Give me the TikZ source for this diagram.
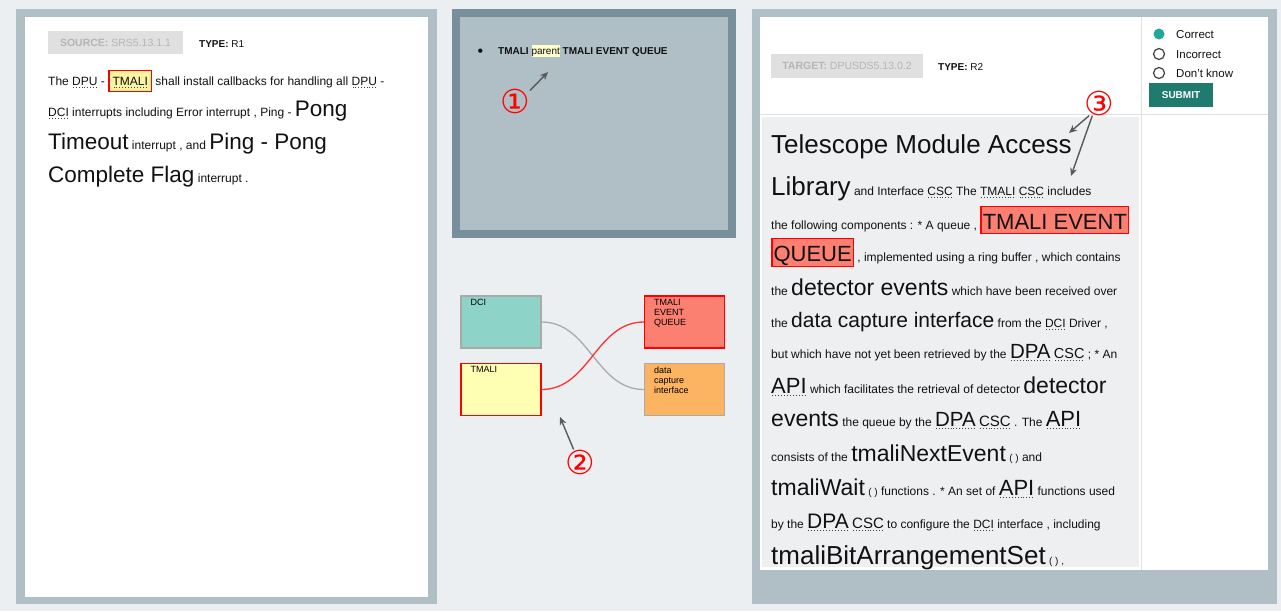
\documentclass[tikz,border=0pt]{standalone}
\usepackage{fontspec}
\setmainfont{Liberation Sans}
\newfontfamily\markfont{DejaVu Sans}
\usetikzlibrary{arrows.meta}

\definecolor{pagebg}{HTML}{ECEFF1}
\definecolor{frame}{HTML}{B0BEC5}
\definecolor{frameDark}{HTML}{78909C}
\definecolor{chip}{HTML}{E0E0E0}
\definecolor{chipText}{HTML}{B5B5B5}
\definecolor{textArea}{HTML}{EDEFF1}
\definecolor{radioTeal}{HTML}{26A69A}
\definecolor{submitTeal}{HTML}{1E7B6E}
\definecolor{hlYellow}{HTML}{FAF3A0}
\definecolor{hlPale}{HTML}{FFFFCC}
\definecolor{salmon}{HTML}{FB8072}
\definecolor{dciCol}{HTML}{8DD3C7}
\definecolor{tmaliCol}{HTML}{FFFFB3}
\definecolor{capCol}{HTML}{FDB462}
\definecolor{boxGray}{HTML}{AAAAAA}
\definecolor{wireRed}{HTML}{FF3030}
\definecolor{ink}{HTML}{111111}

\newcommand{\fs}[1]{\fontsize{#1}{#1}\selectfont}
\newsavebox{\abrbox}
\newcommand{\abr}[1]{\sbox\abrbox{#1}\leavevmode\rlap{\hbox to\wd\abrbox{\color{black!75}\xleaders\hbox{\kern.9pt\vrule width 1pt height -1.8pt depth 2.8pt\kern.9pt}\hfil}}\usebox\abrbox}
\setlength{\fboxrule}{1.3pt}
\newcommand{\hly}[1]{{\setlength{\fboxsep}{3pt}\fcolorbox{red}{hlYellow}{\rule[-0.7pt]{0pt}{11.4pt}#1}}}
\newcommand{\hlq}[1]{{\setlength{\fboxsep}{1pt}\fcolorbox{red}{salmon}{\rule[-2.7pt]{0pt}{23.4pt}#1}}}
\newcommand{\hlp}[1]{{\setlength{\fboxsep}{0pt}\colorbox{hlPale}{\rule[-2.2pt]{0pt}{11.7pt}#1}}}

\begin{document}
\begin{tikzpicture}[x=1pt,y=-1pt,
    txt/.style={anchor=base west,inner sep=0pt,text=ink},
    chipbox/.style={fill=chip,inner sep=0pt,text=chipText,font=\fs{10.5}},
    radio/.style={circle,inner sep=0pt,minimum size=11pt,line width=1.2pt},
    dbox/.style={line width=1.4pt,minimum width=80pt,minimum height=52pt,inner sep=0pt},
    dlbl/.style={anchor=north west,inner sep=0pt,xshift=10pt,yshift=-3.5pt,align=left,font=\fontsize{9}{10}\selectfont},
    wire/.style={line width=1.3pt},
    circnum/.style={inner sep=0pt,text=red,font=\markfont\fs{33}},
    note/.style={draw=black!65,line width=1.4pt,-{Stealth[length=8pt,width=7pt]}}]
    \fill[pagebg] (0,0) rectangle (1281,611);
    \useasboundingbox (0,0) rectangle (1281,611);
    \fill[frame] (16,9) rectangle (437,604);
    \fill[white] (25,17) rectangle (428,597);
    \fill[frameDark] (452,9) rectangle (736,238);
    \fill[frame] (460,17) rectangle (728,230);
    \fill[frame] (752,9) rectangle (1277,604);
    \fill[white] (760,17) rectangle (1268,570);
    \fill[textArea] (762,117) rectangle (1139,567);
    \draw[chip,line width=1pt] (760,114.5) -- (1268,114.5);
    \draw[chip,line width=1pt] (1141,17) -- (1141,570);

    \node[chipbox,minimum width=135pt,minimum height=23pt] (src) at (115.5,42.5) {\textbf{SOURCE:} SRS5.13.1.1};
    \node[txt,font=\fs{10}] (srcType) at (199,47) {\textbf{TYPE:} R1};
    \node[txt,font=\fs{12}] (s1) at (48,85) {The \abr{DPU} - \hly{\abr{TMALI}} shall install callbacks for handling all \abr{DPU} -};
    \node[txt,font=\fs{12}] (s2) at (48,116) {\abr{DCI} interrupts including Error interrupt , Ping - {\fs{22.5}Pong}};
    \node[txt,font=\fs{12}] (s3) at (48,149) {{\fs{22.5}Timeout} interrupt , and {\fs{22.5}Ping - Pong}};
    \node[txt,font=\fs{12}] (s4) at (48,182) {{\fs{22.5}Complete Flag} interrupt .};

    \node[txt,font=\fs{16}] (bullet) at (477.5,56.5) {•};
    \node[txt,font=\fs{10}] (rel) at (498,54.5) {\textbf{TMALI} \hlp{parent} \textbf{TMALI EVENT QUEUE}};
    \node[circnum] (one) at (515,101) {①};
    \coordinate (oneTip) at (548,72);
    \draw[note] (one.35) -- (oneTip);

    \node[dbox,draw=boxGray,fill=dciCol,label={[dlbl]north west:DCI}] (dci) at (501,322) {};
    \node[dbox,draw=red,fill=tmaliCol,label={[dlbl]north west:TMALI}] (tmali) at (501,389.5) {};
    \node[dbox,draw=red,fill=salmon,label={[dlbl]north west:TMALI\\EVENT\\QUEUE}] (teq) at (684.5,322) {};
    \node[dbox,draw=boxGray,fill=capCol,label={[dlbl]north west:data\\capture\\interface}] (dcap) at (684.5,389.5) {};
    \draw[wire,boxGray] (dci.east) to[out=0,in=180] (dcap.west);
    \draw[wire,wireRed] (tmali.east) to[out=0,in=180] (teq.west);
    \node[circnum] (two) at (580,462) {②};
    \coordinate (twoTip) at (560,417);
    \draw[note] (two.117) -- (twoTip);

    \node[chipbox,minimum width=152pt,minimum height=24pt] (tgt) at (847,66) {\textbf{TARGET:} DPUSDS5.13.0.2};
    \node[txt,font=\fs{10}] (tgtType) at (938,70) {\textbf{TYPE:} R2};
    \node[radio,fill=radioTeal] (rbCorrect) at (1159,34) {};
    \node[radio,draw=black!75,fill=white] (rbIncorrect) at (1159,54) {};
    \node[radio,draw=black!75,fill=white] (rbDontKnow) at (1159,73) {};
    \node[txt,font=\fs{11.5}] (lblCorrect) at (1176,38.5) {Correct};
    \node[txt,font=\fs{11.5}] (lblIncorrect) at (1176,58) {Incorrect};
    \node[txt,font=\fs{11.5}] (lblDontKnow) at (1176,77) {Don't know};
    \node[fill=submitTeal,minimum width=64pt,minimum height=24pt,inner sep=0pt,text=white,font=\fs{10}\bfseries] (submitBtn) at (1181,95) {SUBMIT};

    \node[txt,font=\fs{12}] (t1) at (771,153) {{\fs{26}Telescope Module Access}};
    \node[txt,font=\fs{12}] (t2) at (771,195) {{\fs{26}Library} and Interface \abr{CSC} The \abr{TMALI} \abr{CSC} includes};
    \node[txt,font=\fs{12}] (t3) at (771,229) {the following components : * A queue , {\fs{22}\hlq{TMALI EVENT}}};
    \node[txt,font=\fs{12}] (t4) at (771,261) {{\fs{22}\hlq{QUEUE}} , implemented using a ring buffer , which contains};
    \node[txt,font=\fs{12}] (t5) at (771,295) {the {\fs{23}detector events} which have been received over};
    \node[txt,font=\fs{12}] (t6) at (771,327) {the {\fs{21}data capture interface} from the \abr{DCI} Driver ,};
    \node[txt,font=\fs{12}] (t7) at (771,358) {but which have not yet been retrieved by the {\fs{20.5}\abr{DPA}} {\fs{14.5}\abr{CSC}} ; * An};
    \node[txt,font=\fs{12}] (t8) at (771,393) {{\fs{22}\abr{API}} which facilitates the retrieval of detector {\fs{23}detector}};
    \node[txt,font=\fs{12}] (t9) at (771,426) {{\fs{23}events} the queue by the {\fs{20.5}\abr{DPA}} {\fs{15}\abr{CSC}} . The {\fs{22}\abr{API}}};
    \node[txt,font=\fs{12}] (t10) at (771,461) {consists of the {\fs{23}tmaliNextEvent} {\fs{10}( )} and};
    \node[txt,font=\fs{12}] (t11) at (771,495) {{\fs{23}tmaliWait} {\fs{10}( )} functions . * An set of {\fs{22}\abr{API}} functions used};
    \node[txt,font=\fs{12}] (t12) at (771,528) {by the {\fs{21}\abr{DPA}} {\fs{15}\abr{CSC}} to configure the \abr{DCI} interface , including};
    \node[txt,font=\fs{12}] (t13) at (771,564) {{\fs{26}tmaliBitArrangementSet} {\fs{10}( ) ,}};
    \node[circnum] (three) at (1099,103) {③};
    \coordinate (threeTipA) at (1069,133);
    \coordinate (threeTipB) at (1071,176);
    \draw[note] (three.232) -- (threeTipA);
    \draw[note] (three.242) -- (threeTipB);
\end{tikzpicture}
\end{document}
